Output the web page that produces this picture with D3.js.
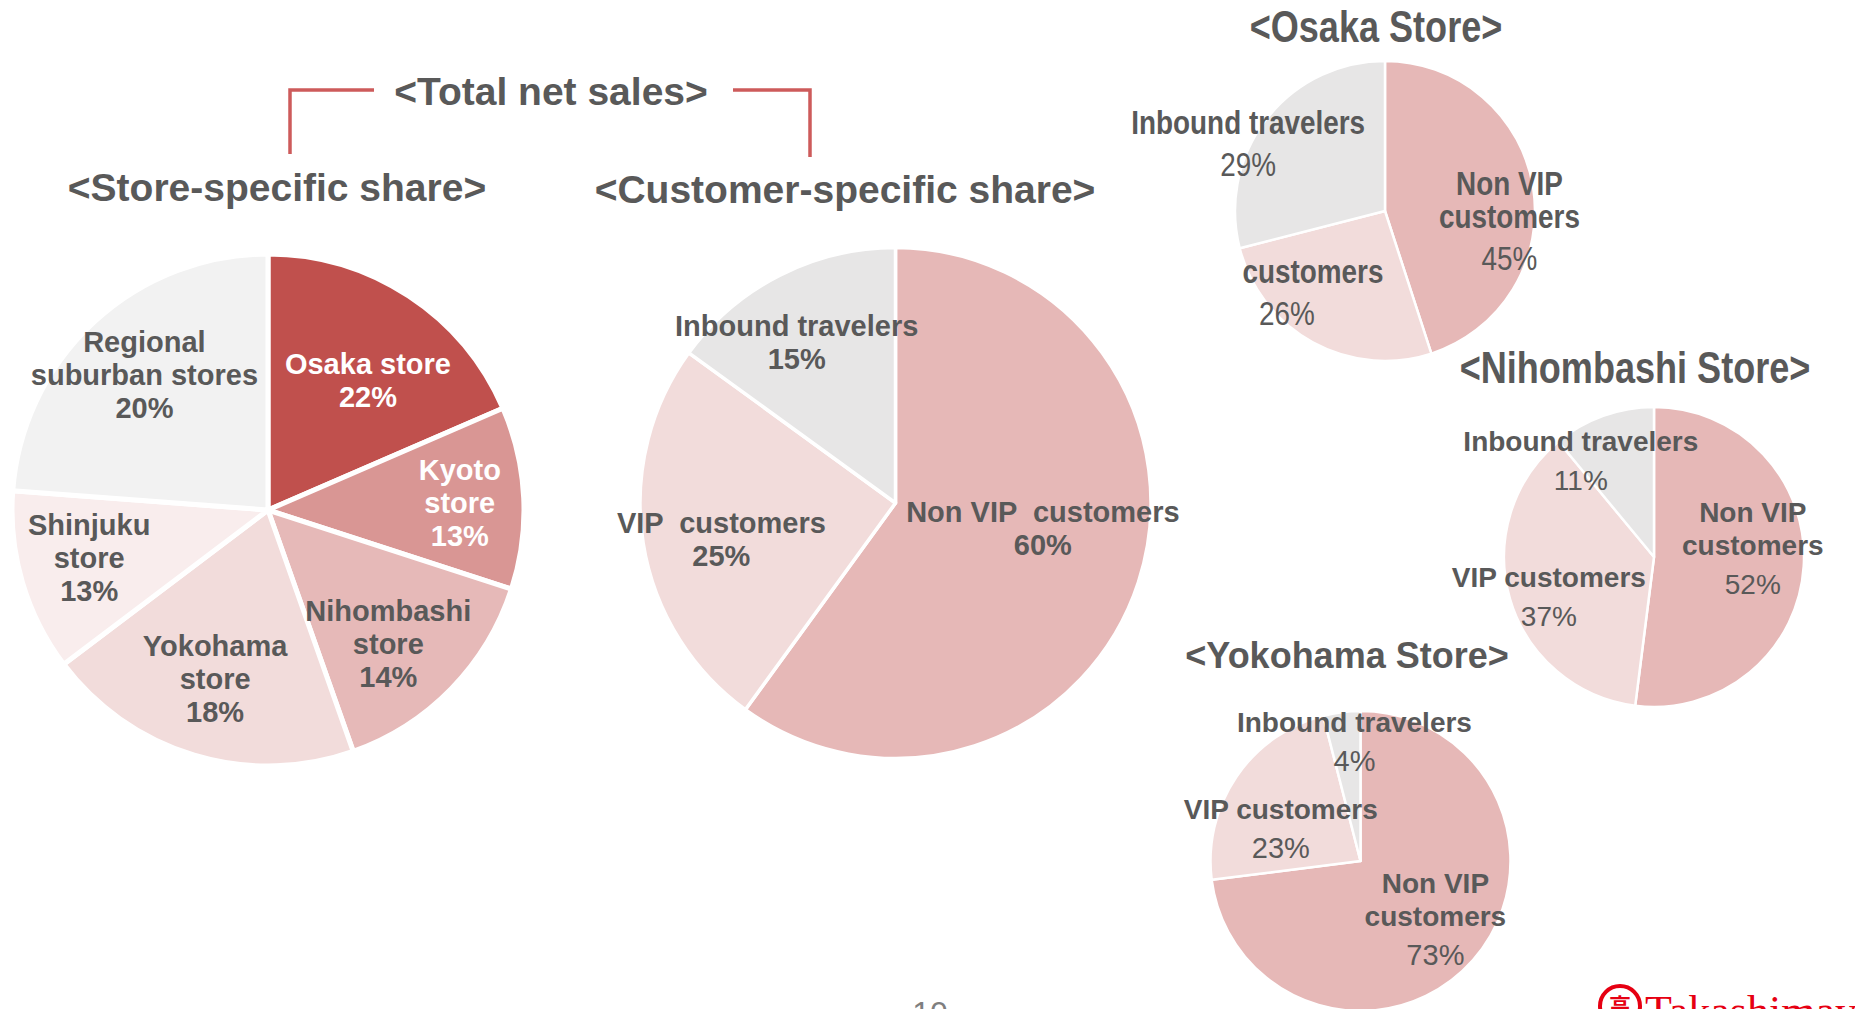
<html>
<head>
  <script src="https://d3js.org/d3.v7.min.js"></script>
  <meta charset="utf-8">
  <title>Total net sales share</title>
<style>
body {
  margin: 0;
  background: #fff;
}
svg {
  display: block;
  background: #fff;
}
text {
  white-space: pre;
}
</style>
</head>
<body>
<script>
var width = 1855,
    height = 1009;

// ---- data ----
// store-specific share (label values)
var storeNames = ['Osaka store', 'Kyoto\nstore', 'Nihombashi\nstore', 'Yokohama\nstore', 'Shinjuku\nstore', 'Regional\nsuburban stores'];
var storeShare = [22, 13, 14, 18, 13, 20];
// the slices in the picture are not drawn to the printed values, these are their measured sizes (%)
var storeSlice = [18.5, 11.5, 14.6, 20.1, 11.5, 23.8];

// customer-specific share, order: Non VIP, VIP, Inbound
var customerTypes = ['Non VIP customers', 'VIP customers', 'Inbound travelers'];
var totalShare = [60, 25, 15];
var osakaShare = [45, 26, 29];
var nihombashiShare = [52, 37, 11];
var yokohamaShare = [73, 23, 4];

var grey = '#595959';
var font = '"Liberation Sans", Arial, sans-serif';
// no narrow face installed: squeeze the normal one instead
var narrow = 0.82;
var customerColors = ['#e6b8b7', '#f2dcdb', '#e7e6e6'];

var svg = d3.select('body').append('svg')
  .attr('width', width)
  .attr('height', height);

var pies = [
  {
    cx: 268, cy: 510, r: 256, stroke: 5,
    slices: storeSlice, values: storeShare,
    labels: storeNames,
    colors: ['#c0504d', '#d99694', '#e6b9b8', '#f2dcdb', '#f9eded', '#f2f2f2'],
    textColors: ['#fff', '#fff', grey, grey, grey, grey],
    k: [0.64, 0.75, 0.70, 0.69, 0.72, 0.71],
    nudge: [[10, 7], [0, 2], [-8, 9], [-2, 0], [-2, -4], [0, -2]],
    sx: 1, size: 29, pctWeight: 'bold', pctSize: 29,
    lh: 33, gap: 33
  },
  {
    cx: 895.5, cy: 503, r: 255.5, stroke: 3.5,
    slices: totalShare, values: totalShare,
    labels: ['Non VIP  customers', 'VIP  customers', 'Inbound travelers'],
    colors: customerColors,
    k: [0.59, 0.69, 0.74],
    nudge: [[4, -21], [0, 9], [-13, 8]],
    sx: 1, size: 29, pctWeight: 'bold', pctSize: 29,
    lh: 33, gap: 33
  },
  {
    cx: 1385, cy: 211, r: 150, stroke: 2.5,
    slices: osakaShare, values: osakaShare,
    labels: ['Non VIP\ncustomers', 'customers', 'Inbound travelers'],
    colors: customerColors,
    k: [0.84, 0.72, 0.8],
    nudge: [[0, 29], [-20, -14], [-42, 6]],
    pctDx: [0, -26, 0],
    sx: narrow, size: 34, pctWeight: 'normal', pctSize: 34,
    lh: 33, gap: 42
  },
  {
    cx: 1654, cy: 557, r: 150, stroke: 2.5,
    slices: nihombashiShare, values: nihombashiShare,
    labels: ['Non VIP\ncustomers', 'VIP customers', 'Inbound travelers'],
    colors: customerColors,
    k: [0.66, 0.73, 0.81],
    nudge: [[0, -15], [0, 9], [-32, 18]],
    sx: 1, size: 28, pctWeight: 'normal', pctSize: 28,
    lh: 33, gap: 39
  },
  {
    cx: 1360.5, cy: 861, r: 150, stroke: 2.5,
    slices: yokohamaShare, values: yokohamaShare,
    labels: ['Non VIP\ncustomers', 'VIP customers', 'Inbound travelers'],
    colors: customerColors,
    k: [0.63, 0.57, 0.8],
    nudge: [[4, -4], [-9, 16], [9, 0]],
    sx: 1, size: 28, pctWeight: 'normal', pctSize: 29,
    lh: 33, gap: 39
  }
];

var pie = d3.pie().sort(null);

// slices first, labels on top
pies.forEach(function (p) {
  p.arcs = pie(p.slices);
  p.g = svg.append('g').attr('transform', 'translate(' + p.cx + ',' + p.cy + ')');
  var arc = d3.arc().innerRadius(0).outerRadius(p.r);
  p.g.selectAll('path')
    .data(p.arcs)
    .enter()
    .append('path')
    .attr('d', arc)
    .attr('fill', function (d, i) { return p.colors[i]; })
    .attr('stroke', '#fff')
    .attr('stroke-width', p.stroke)
    .attr('stroke-linejoin', 'round');
});

pies.forEach(function (p) {
  p.arcs.forEach(function (d, i) {
    var kr = p.k[i] * p.r;
    var c = d3.arc().innerRadius(kr).outerRadius(kr).centroid(d);
    var n = p.nudge[i] || [0, 0];
    var x = c[0] + n[0],
        y = c[1] + n[1];
    var names = p.labels[i].split('\n');
    var offs = names.map(function (s, j) { return j * p.lh; });
    var pctOff = offs[offs.length - 1] + p.gap;
    var mid = pctOff / 2;
    var color = p.textColors ? p.textColors[i] : grey;
    var t = p.g.append('text')
      .attr('transform', 'translate(' + x + ',' + y + ') scale(' + p.sx + ',1)')
      .attr('text-anchor', 'middle')
      .attr('dominant-baseline', 'central')
      .attr('fill', color)
      .style('font-family', font);
    names.forEach(function (s, j) {
      t.append('tspan')
        .attr('x', 0)
        .attr('y', offs[j] - mid)
        .style('font-size', p.size + 'px')
        .style('font-weight', 'bold')
        .text(s);
    });
    t.append('tspan')
      .attr('x', (p.pctDx ? p.pctDx[i] : 0) / p.sx)
      .attr('y', pctOff - mid)
      .style('font-size', p.pctSize + 'px')
      .style('font-weight', p.pctWeight)
      .text(p.values[i] + '%');
  });
});

// titles
var titles = [
  {text: '<Total net sales>', x: 551, y: 91, size: 39, sx: 1},
  {text: '<Store-specific share>', x: 277, y: 187, size: 39, sx: 1},
  {text: '<Customer-specific share>', x: 845, y: 189, size: 39, sx: 1},
  {text: '<Osaka Store>', x: 1376, y: 27, size: 44, sx: narrow},
  {text: '<Nihombashi Store>', x: 1635, y: 368, size: 44, sx: narrow},
  {text: '<Yokohama Store>', x: 1347, y: 655, size: 36, sx: 1}
];

svg.selectAll('text.title')
  .data(titles)
  .enter()
  .append('text')
  .attr('class', 'title')
  .attr('transform', function (d) { return 'translate(' + d.x + ',' + d.y + ') scale(' + d.sx + ',1)'; })
  .attr('text-anchor', 'middle')
  .attr('dominant-baseline', 'central')
  .attr('fill', grey)
  .style('font-family', font)
  .style('font-size', function (d) { return d.size + 'px'; })
  .style('font-weight', 'bold')
  .text(function (d) { return d.text; });

// bracket around the total title
var bracket = d3.line();
svg.append('path')
  .attr('d', bracket([[290, 154], [290, 90], [374, 90]]))
  .attr('fill', 'none')
  .attr('stroke', '#cd5b5b')
  .attr('stroke-width', 3.5);
svg.append('path')
  .attr('d', bracket([[733, 90], [810, 90], [810, 157]]))
  .attr('fill', 'none')
  .attr('stroke', '#cd5b5b')
  .attr('stroke-width', 3.5);

// page number, cut by the bottom edge
svg.append('text')
  .attr('x', 930)
  .attr('y', 1024)
  .attr('text-anchor', 'middle')
  .attr('fill', '#7f7f7f')
  .style('font-family', font)
  .style('font-size', '32px')
  .text('10');

// logo, cut by the bottom edge
var logo = svg.append('g').attr('transform', 'translate(1620,1006)');
logo.append('circle')
  .attr('r', 20)
  .attr('fill', 'none')
  .attr('stroke', '#e60012')
  .attr('stroke-width', 4);
logo.append('text')
  .attr('text-anchor', 'middle')
  .attr('y', 8)
  .attr('fill', '#e60012')
  .style('font-family', '"Noto Sans CJK JP", sans-serif')
  .style('font-weight', 'bold')
  .style('font-size', '22px')
  .text('高');
svg.append('text')
  .attr('x', 1645)
  .attr('y', 1026)
  .attr('fill', '#e60012')
  .style('font-family', '"Liberation Serif", "DejaVu Serif", serif')
  .style('font-size', '44px')
  .text('Takashimaya');
</script>
</body>
</html>
